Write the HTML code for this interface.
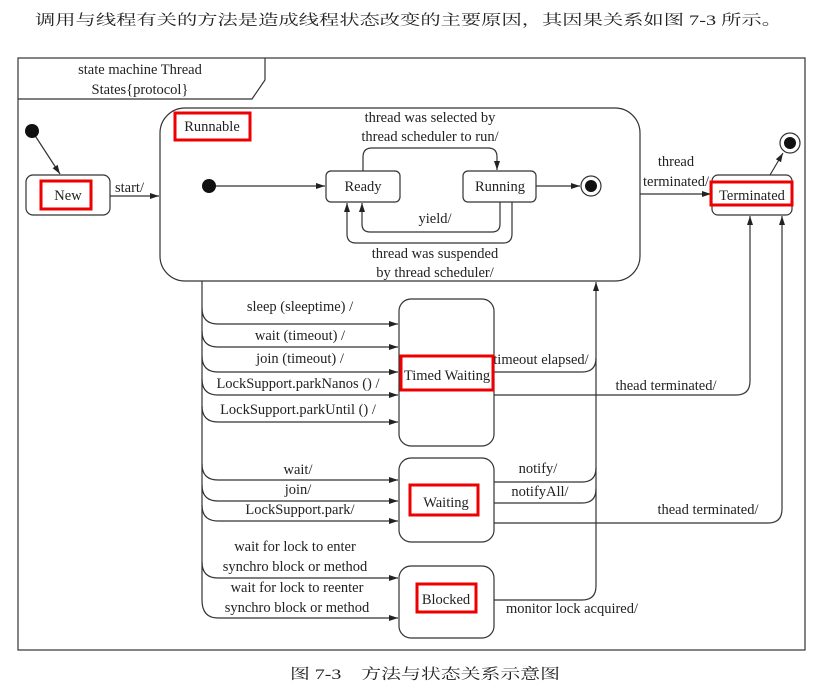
<!DOCTYPE html>
<html><head><meta charset="utf-8"><style>
html,body{margin:0;padding:0;background:#fff;}
svg{display:block;}
text{font-family:"Liberation Serif","Noto Serif CJK SC",serif;fill:#222;font-size:14.5px;}
.c{text-anchor:middle;}
.zh{font-family:"Liberation Serif","Noto Serif CJK SC","Noto Sans CJK SC",serif;}
</style></head><body>
<svg width="826" height="698" viewBox="0 0 826 698" xmlns="http://www.w3.org/2000/svg">
<defs><marker id="a" markerWidth="10" markerHeight="8" refX="9" refY="4" orient="auto" markerUnits="userSpaceOnUse"><path d="M0,1 L9,4 L0,7 Z" fill="#222"/></marker></defs>
<text x="35" y="25" class="zh" font-size="18" textLength="747" lengthAdjust="spacingAndGlyphs">调用与线程有关的方法是造成线程状态改变的主要原因，其因果关系如图 7-3 所示。</text>
<g fill="none" stroke="#333" stroke-width="1.2">
<rect x="18" y="58" width="787" height="592"/>
<path d="M18,99 L252,99 L265,80 L265,58"/>
<rect x="26" y="175" width="84" height="40" rx="7"/>
<rect x="160" y="108" width="480" height="173" rx="25"/>
<rect x="326" y="171" width="74" height="31" rx="5"/>
<rect x="463" y="171" width="73" height="31" rx="5"/>
<rect x="712" y="175" width="80" height="40" rx="6"/>
<rect x="399" y="299" width="95" height="147" rx="12"/>
<rect x="399" y="458" width="95" height="84" rx="12"/>
<rect x="399" y="566" width="95" height="72" rx="12"/>
<circle cx="591" cy="186" r="10"/>
<circle cx="790" cy="143" r="10"/>
<line x1="34" y1="134" x2="60" y2="174" marker-end="url(#a)"/>
<line x1="110" y1="196" x2="159" y2="196" marker-end="url(#a)"/>
<line x1="215" y1="186" x2="325" y2="186" marker-end="url(#a)"/>
<path d="M363,171 L363,157 Q363,148 372,148 L488,148 Q497,148 497,157 L497,170" marker-end="url(#a)"/>
<line x1="536" y1="186" x2="580" y2="186" marker-end="url(#a)"/>
<path d="M500,202 L500,224 Q500,232 492,232 L370,232 Q362,232 362,224 L362,203" marker-end="url(#a)"/>
<path d="M512,202 L512,234 Q512,243 503,243 L356,243 Q347,243 347,234 L347,203" marker-end="url(#a)"/>
<line x1="640" y1="194" x2="711" y2="194" marker-end="url(#a)"/>
<line x1="770" y1="175" x2="783" y2="153" marker-end="url(#a)"/>
<path d="M202,281 L202,600 Q202,618 218,618 L398,618" marker-end="url(#a)"/>
<path d="M202,308 Q202,324 218,324 L398,324" marker-end="url(#a)"/>
<path d="M202,331 Q202,347 218,347 L398,347" marker-end="url(#a)"/>
<path d="M202,356 Q202,372 218,372 L398,372" marker-end="url(#a)"/>
<path d="M202,379 Q202,395 218,395 L398,395" marker-end="url(#a)"/>
<path d="M202,406 Q202,422 218,422 L398,422" marker-end="url(#a)"/>
<path d="M202,464 Q202,480 218,480 L398,480" marker-end="url(#a)"/>
<path d="M202,485 Q202,501 218,501 L398,501" marker-end="url(#a)"/>
<path d="M202,505 Q202,521 218,521 L398,521" marker-end="url(#a)"/>
<path d="M202,562 Q202,578 218,578 L398,578" marker-end="url(#a)"/>
<path d="M494,600 L582,600 Q596,600 596,586 L596,282" marker-end="url(#a)"/>
<path d="M494,372 L582,372 Q596,372 596,358"/>
<path d="M494,482 L582,482 Q596,482 596,468"/>
<path d="M494,503 L582,503 Q596,503 596,489"/>
<path d="M494,395 L736,395 Q750,395 750,381 L750,216" marker-end="url(#a)"/>
<path d="M494,523 L768,523 Q782,523 782,509 L782,216" marker-end="url(#a)"/>
</g>
<circle cx="32" cy="131" r="7" fill="#111"/>
<circle cx="209" cy="186" r="7" fill="#111"/>
<circle cx="591" cy="186" r="6" fill="#111"/>
<circle cx="790" cy="143" r="6" fill="#111"/>
<text x="140" y="74" class="c">state machine Thread</text>
<text x="140" y="94" class="c">States{protocol}</text>
<text x="68" y="200" class="c">New</text>
<text x="115" y="192">start/</text>
<text x="212" y="131" class="c">Runnable</text>
<text x="430" y="122" class="c">thread was selected by</text>
<text x="430" y="141" class="c">thread scheduler to run/</text>
<text x="363" y="191" class="c">Ready</text>
<text x="500" y="191" class="c">Running</text>
<text x="435" y="223" class="c">yield/</text>
<text x="435" y="258" class="c">thread was suspended</text>
<text x="435" y="277" class="c">by thread scheduler/</text>
<text x="676" y="166" class="c">thread</text>
<text x="676" y="186" class="c">terminated/</text>
<text x="752" y="200" class="c">Terminated</text>
<text x="447" y="380" class="c" font-size="13.5">Timed Waiting</text>
<text x="446" y="507" class="c">Waiting</text>
<text x="446" y="604" class="c">Blocked</text>
<text x="300" y="311" class="c">sleep (sleeptime) /</text>
<text x="300" y="340" class="c">wait (timeout) /</text>
<text x="300" y="363" class="c">join (timeout) /</text>
<text x="298" y="388" class="c">LockSupport.parkNanos () /</text>
<text x="298" y="414" class="c">LockSupport.parkUntil () /</text>
<text x="298" y="474" class="c">wait/</text>
<text x="298" y="494" class="c">join/</text>
<text x="300" y="514" class="c">LockSupport.park/</text>
<text x="295" y="551" class="c">wait for lock to enter</text>
<text x="295" y="571" class="c">synchro block or method</text>
<text x="297" y="592" class="c">wait for lock to reenter</text>
<text x="297" y="612" class="c">synchro block or method</text>
<text x="541" y="364" class="c">timeout elapsed/</text>
<text x="666" y="390" class="c">thead terminated/</text>
<text x="538" y="473" class="c">notify/</text>
<text x="540" y="496" class="c">notifyAll/</text>
<text x="708" y="514" class="c">thead terminated/</text>
<text x="572" y="613" class="c">monitor lock acquired/</text>
<g fill="none" stroke="#e00" stroke-width="3">
<rect x="41" y="181" width="50" height="28"/>
<rect x="175" y="113" width="75" height="27"/>
<rect x="711" y="182" width="81" height="23"/>
<rect x="401" y="356" width="92" height="34"/>
<rect x="410" y="485" width="68" height="30"/>
<rect x="417" y="584" width="59" height="28"/>
</g>
<text x="290" y="679" class="zh" font-size="15" textLength="270" lengthAdjust="spacingAndGlyphs">图 7-3　方法与状态关系示意图</text>
</svg>
</body></html>
